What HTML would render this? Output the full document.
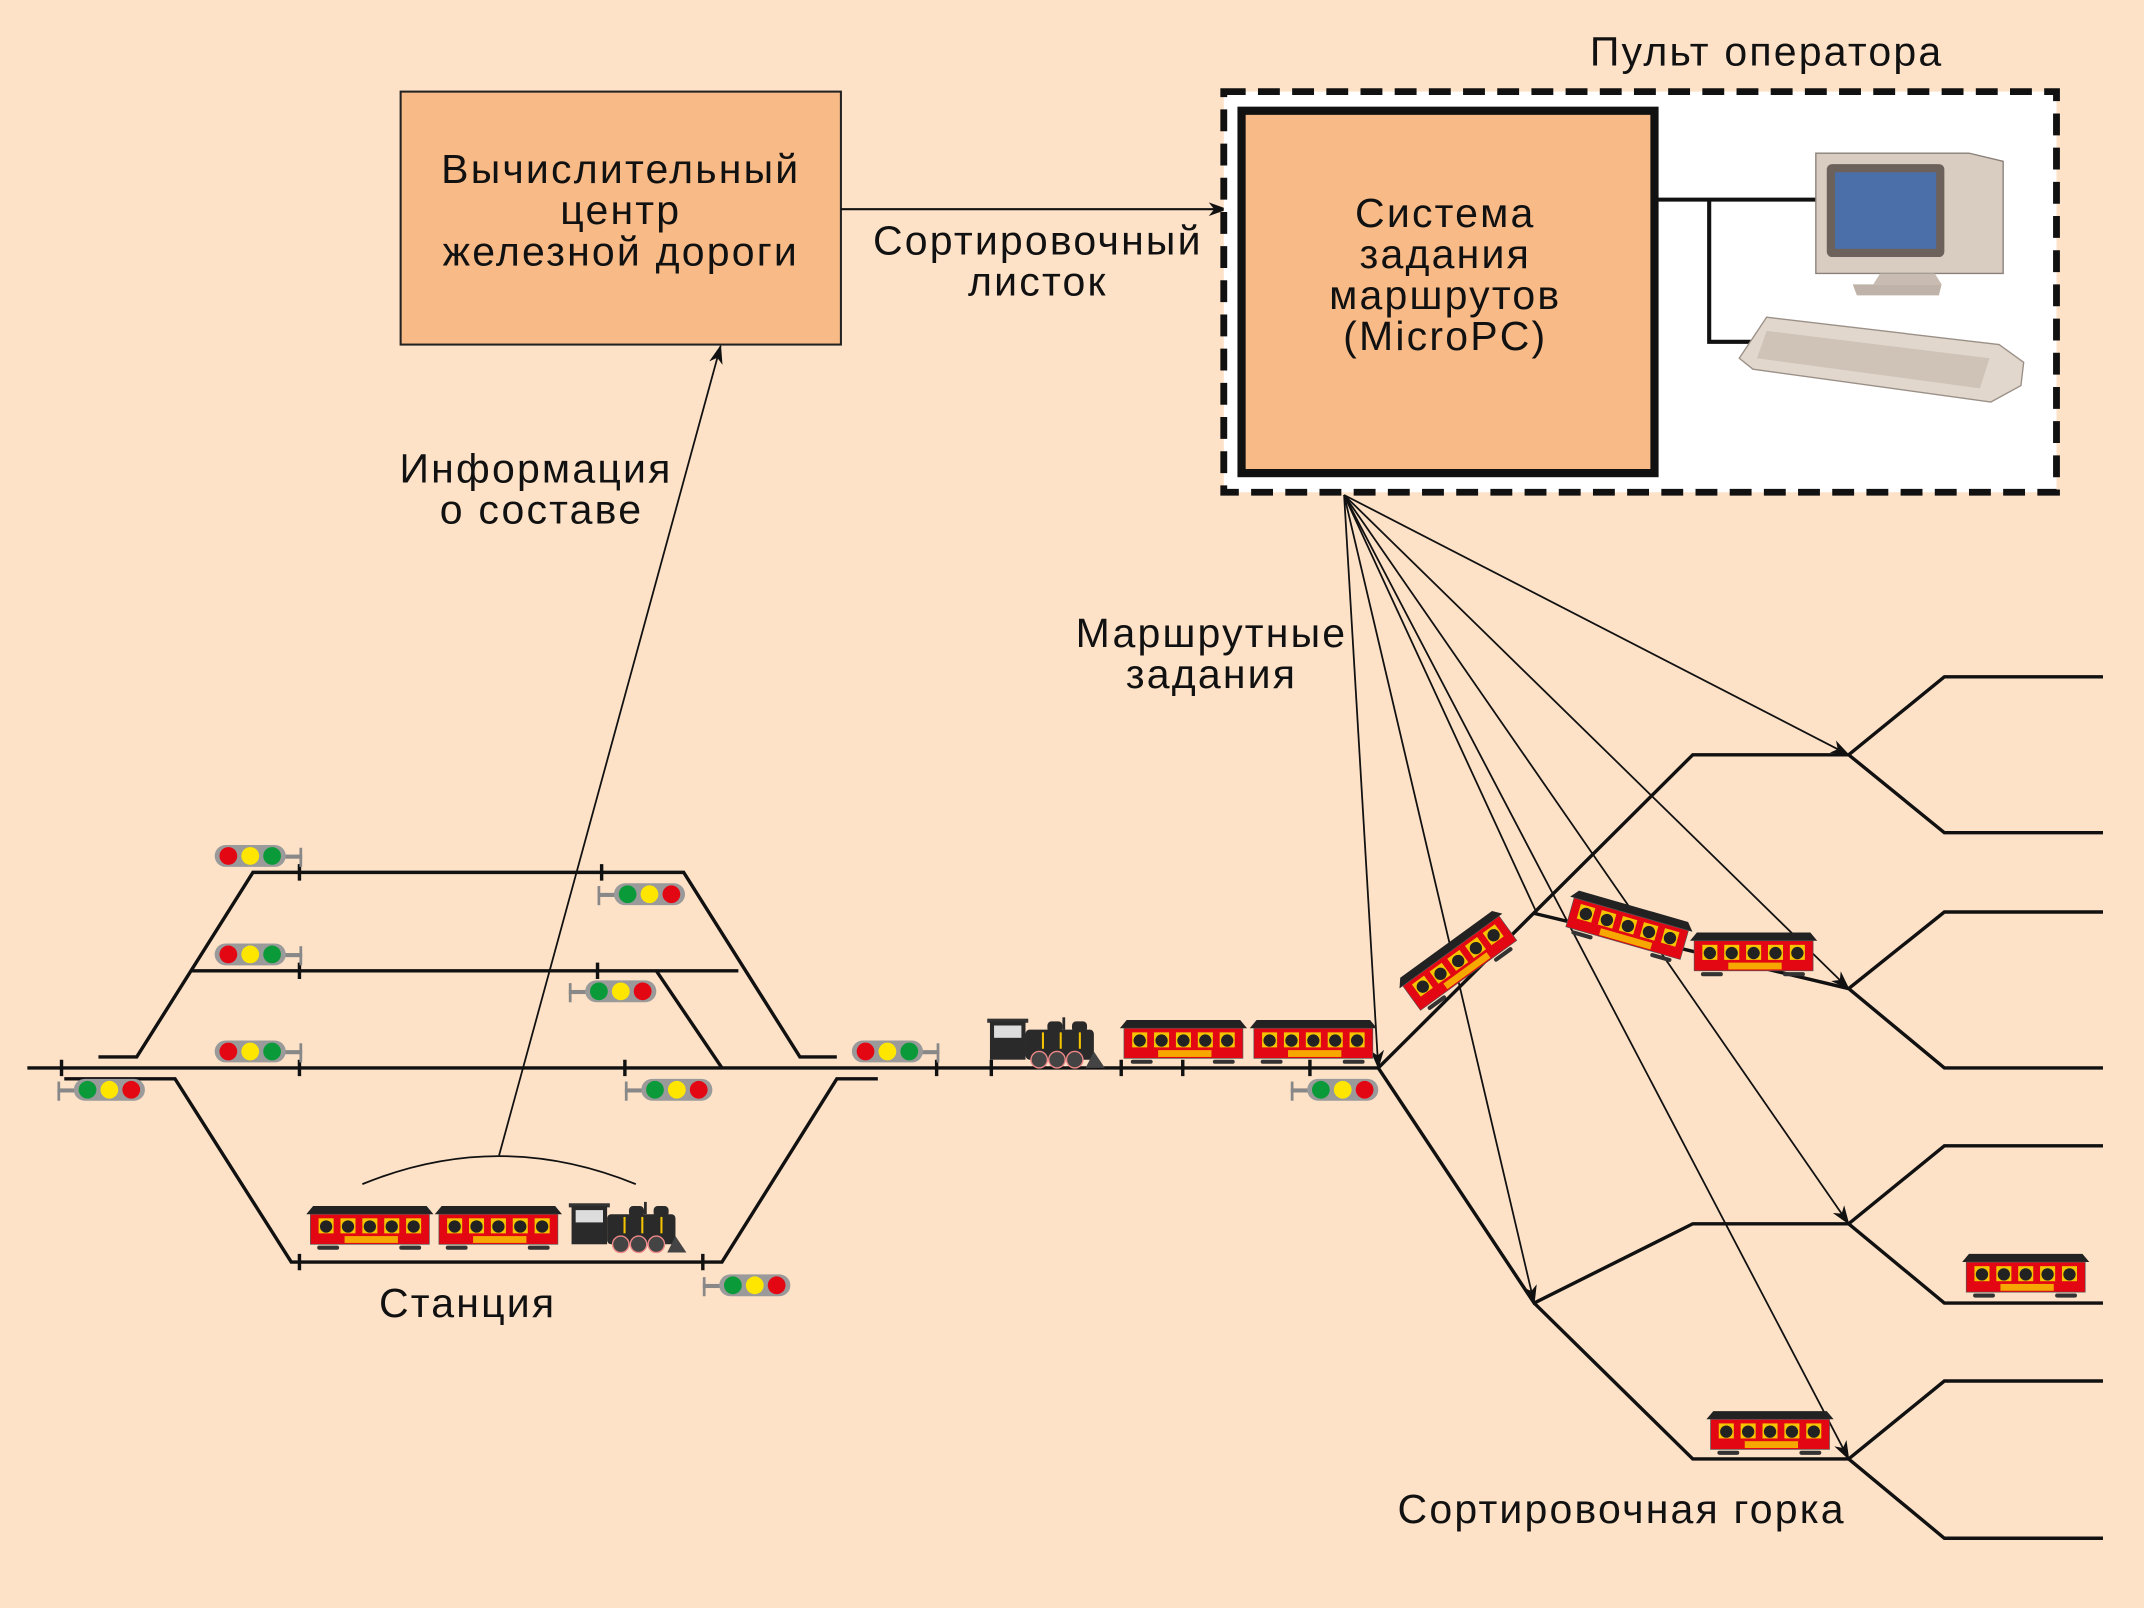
<!DOCTYPE html>
<html><head><meta charset="utf-8"><style>
html,body{margin:0;padding:0;background:#fde2c8;}
svg{display:block}
text{font-family:"Liberation Sans",sans-serif;fill:#111;font-size:30px;letter-spacing:1.6px;text-anchor:middle}
</style></head><body>
<svg width="2144" height="1608" viewBox="0 0 1568 1176" xmlns="http://www.w3.org/2000/svg">
<defs>
<marker id="ar" markerWidth="14" markerHeight="10" refX="13" refY="5" orient="auto" markerUnits="userSpaceOnUse">
<path d="M0,0 L14,5 L0,10 L4,5 Z" fill="#111"/></marker>
<g id="car">
<path d="M0,6 L5,0 L88,0 L93,6 Z" fill="#222"/>
<rect x="3" y="6" width="87" height="22" fill="#e30613" stroke="#555" stroke-width="0.5"/>
<g fill="#f5c400"><rect x="9" y="9" width="11" height="11"/><rect x="25" y="9" width="11" height="11"/><rect x="41" y="9" width="11" height="11"/><rect x="57" y="9" width="11" height="11"/><rect x="73" y="9" width="11" height="11"/></g>
<g fill="#222"><circle cx="14.5" cy="15" r="4.5"/><circle cx="30.5" cy="15" r="4.5"/><circle cx="46.5" cy="15" r="4.5"/><circle cx="62.5" cy="15" r="4.5"/><circle cx="78.5" cy="15" r="4.5"/></g>
<rect x="28" y="22" width="39" height="5" fill="#f7a800"/>
<g fill="#333"><rect x="8" y="29" width="16" height="3" rx="1.5"/><rect x="68" y="29" width="16" height="3" rx="1.5"/></g>
</g>
<g id="loco">
<rect x="0" y="4" width="30" height="3" fill="#333"/>
<rect x="2" y="6" width="26" height="28" fill="#2a2a2a"/>
<rect x="5" y="9" width="20" height="9" fill="#ddd"/>
<rect x="28" y="12" width="50" height="22" rx="3" fill="#2a2a2a"/>
<rect x="55" y="3" width="2" height="9" fill="#2a2a2a"/>
<rect x="44" y="6" width="11" height="8" rx="3" fill="#2a2a2a"/><rect x="62" y="6" width="11" height="8" rx="3" fill="#2a2a2a"/>
<g fill="#f5c400"><rect x="40" y="14" width="1.5" height="12"/><rect x="53" y="14" width="1.5" height="12"/><rect x="67" y="14" width="1.5" height="12"/></g>
<g fill="#444" stroke="#e88" stroke-width="1"><circle cx="38" cy="34" r="6"/><circle cx="51" cy="34" r="6"/><circle cx="64" cy="34" r="6"/></g>
<path d="M72,40 L78,28 L86,40 Z" fill="#444"/>
</g>
<g id="sig">
<rect x="0" y="4" width="2" height="14" fill="#888"/><rect x="0" y="9" width="14" height="3" fill="#888"/>
<rect x="12" y="2" width="52" height="16" rx="8" fill="#9a9a9a"/>
<circle cx="22" cy="10" r="6.5" fill="#0a9a3a"/><circle cx="38" cy="10" r="6.5" fill="#ffe600"/><circle cx="54" cy="10" r="6.5" fill="#e30613"/>
</g>
</defs>

<rect width="1568" height="1176" fill="#fde2c8"/>

<rect x="293" y="67" width="322" height="185" fill="#f8bb88" stroke="#222" stroke-width="1.5"/>
<text x="454" y="134">Вычислительный</text>
<text x="454" y="164">центр</text>
<text x="454" y="194">железной дороги</text>
<line x1="615" y1="153" x2="897" y2="153" stroke="#111" stroke-width="1.5" marker-end="url(#ar)"/>
<text x="759" y="186">Сортировочный</text>
<text x="759" y="216">листок</text>
<text x="1292" y="48">Пульт оператора</text>
<rect x="895" y="67" width="609" height="293" fill="#fff" stroke="#111" stroke-width="5" stroke-dasharray="16,9"/>
<rect x="908" y="81" width="302" height="265" fill="#f8bb88" stroke="#111" stroke-width="6"/>
<text x="1057" y="166">Система</text>
<text x="1057" y="196">задания</text>
<text x="1057" y="226">маршрутов</text>
<text x="1057" y="256">(MicroPC)</text>
<path d="M1210,146 H1330 M1250,146 V250 H1290" stroke="#111" stroke-width="3" fill="none"/>
<path d="M1328,112 L1440,112 L1465,118 L1465,200 L1328,200 Z" fill="#d9cdc2" stroke="#8a8079"/>
<rect x="1336" y="120" width="86" height="68" rx="4" fill="#6d625b"/>
<rect x="1342" y="126" width="74" height="56" fill="#4b6fa8"/>
<path d="M1375,200 L1415,200 L1420,208 L1370,208 Z" fill="#c8bcb2"/>
<path d="M1355,208 L1420,208 L1418,216 L1358,216 Z" fill="#bfb3a9"/>
<path d="M1292,232 L1462,252 L1480,265 L1478,282 L1456,294 L1282,270 L1272,262 Z" fill="#e2d7cc" stroke="#9b9087"/>
<path d="M1292,242 L1455,262 L1448,284 L1285,262 Z" fill="#cfc3b8"/>

<line x1="365" y1="845" x2="527" y2="253" stroke="#111" stroke-width="1.3" marker-end="url(#ar)"/>
<path d="M265,866 Q365,825 465,866" stroke="#111" stroke-width="1.3" fill="none"/>
<text x="392" y="353">Информация</text>
<text x="396" y="383">о  составе</text>
<text x="886" y="473">Маршрутные</text>
<text x="886" y="503">задания</text>

<g stroke="#111" stroke-width="1.3" fill="none" marker-end="url(#ar)">
<line x1="983" y1="362" x2="1008" y2="781"/>
<line x1="983" y1="362" x2="1352" y2="552"/>
<line x1="983" y1="362" x2="1352" y2="723"/>
<line x1="983" y1="362" x2="1352" y2="895"/>
<line x1="983" y1="362" x2="1352" y2="1067"/>
<line x1="983" y1="362" x2="1122" y2="953"/>
</g>
<line x1="983" y1="362" x2="1124" y2="668" stroke="#111" stroke-width="1.3"/>

<g stroke="#111" stroke-width="2.5" fill="none">
<line x1="20" y1="781" x2="1008" y2="781"/>
<path d="M72,773 H100 L185,638 H500 L585,773 H612"/>
<path d="M140,710 H540 M480,710 L528,781"/>
<path d="M47,789 H128 L213,923 H528 L612,789 H642"/>
<path d="M1008,781 L1238,552 H1352 L1422,495 H1538 M1352,552 L1422,609 H1538"/>
<path d="M1122,668 L1352,723 L1422,667 H1538 M1352,723 L1422,781 H1538"/>
<path d="M1008,781 L1122,953 L1238,895 H1352 L1422,838 H1538 M1352,895 L1422,953 H1538"/>
<path d="M1122,953 L1238,1067 H1352 L1422,1010 H1538 M1352,1067 L1422,1125 H1538"/>
<path d="M219,632 V644 M219,704 V716 M219,775 V787 M440,632 V644 M219,917 V929 M45,775 V787 M685,775 V787 M725,775 V787 M820,775 V787 M865,775 V787 M958,775 V787 M457,775 V787 M437,704 V716 M514,917 V929"/>
</g>

<g transform="translate(221,616) scale(-1,1)"><use href="#sig"/></g>
<g transform="translate(221,688) scale(-1,1)"><use href="#sig"/></g>
<g transform="translate(221,759) scale(-1,1)"><use href="#sig"/></g>
<g transform="translate(687,759) scale(-1,1)"><use href="#sig"/></g>
<use href="#sig" x="437" y="644"/>
<use href="#sig" x="416" y="715"/>
<use href="#sig" x="42" y="787"/>
<use href="#sig" x="457" y="787"/>
<use href="#sig" x="944" y="787"/>
<use href="#sig" x="514" y="930"/>

<use href="#car" x="224" y="882"/>
<use href="#car" x="318" y="882"/>
<use href="#loco" x="416" y="876"/>
<use href="#loco" x="722" y="741"/>
<use href="#car" x="819" y="746"/>
<use href="#car" x="914" y="746"/>
<g transform="translate(1020,718) rotate(-36)"><use href="#car"/></g>
<g transform="translate(1150,650) rotate(16)"><use href="#car"/></g>
<use href="#car" x="1236" y="682"/>
<use href="#car" x="1435" y="917"/>
<use href="#car" x="1248" y="1032"/>

<text x="342" y="963">Станция</text>
<text x="1186" y="1114">Сортировочная  горка</text>
</svg>
</body></html>
